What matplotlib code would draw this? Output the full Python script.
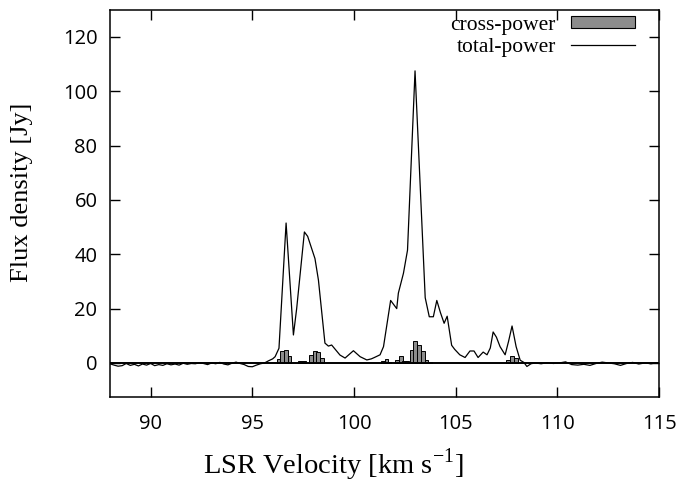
import matplotlib
matplotlib.use("Agg")
import matplotlib.pyplot as plt
from matplotlib.patches import Patch
from matplotlib.lines import Line2D

# total-power spectrum (LSR velocity [km/s], flux density [Jy])
tp_vel = [88.0, 88.2, 88.4, 88.6, 88.8, 89.0, 89.2, 89.4, 89.6, 89.8,
          90.0, 90.2, 90.4, 90.6, 90.8, 91.0, 91.2, 91.4, 91.6, 91.8,
          92.0, 92.2, 92.4, 92.6, 92.8, 93.0, 93.2, 93.4, 93.6, 93.8,
          94.0, 94.2, 94.4, 94.6, 94.8, 95.0, 95.2, 95.4, 95.6, 95.8,
          96.0, 96.12, 96.31, 96.66, 97.02, 97.18, 97.56, 97.72, 98.08, 98.25,
          98.57, 98.74, 98.9, 99.31, 99.56, 99.97, 100.3, 100.63, 100.85, 101.0,
          101.28, 101.45, 101.8, 102.1, 102.18, 102.43, 102.63, 103.0, 103.5, 103.7,
          103.9, 104.07, 104.25, 104.43, 104.58, 104.8, 104.95, 105.2, 105.46, 105.7,
          105.9, 106.1, 106.35, 106.54, 106.7, 106.84, 107.0, 107.18, 107.43, 107.6,
          107.77, 107.97, 108.17, 108.35, 108.5, 108.7, 108.9, 109.2, 109.5, 109.8,
          110.1, 110.4, 110.7, 111.0, 111.3, 111.6, 111.9, 112.2, 112.5, 112.8,
          113.1, 113.4, 113.7, 114.0, 114.3, 114.6, 114.9, 115.0]
tp_flux = [-0.3, -0.8, -1.2, -1.0, -0.2, -0.9, -0.5, -1.1, -0.4, -0.8,
           -0.2, -1.0, -0.6, -0.9, -0.3, -0.7, -0.4, -0.8, -0.1, -0.5,
           -0.2, -0.3, 0.1, -0.2, -0.6, 0.0, -0.3, 0.2, -0.4, -0.7,
           -0.1, 0.3, -0.2, -0.6, -1.3, -1.4, -0.8, -0.3, 0.0, 0.8,
           1.5, 2.3, 5.4, 51.5, 10.3, 20.0, 48.2, 46.6, 38.4, 30.5,
           7.3, 6.2, 6.6, 2.9, 1.8, 4.5, 2.3, 1.1, 1.5, 2.0,
           3.0, 6.0, 23.0, 20.0, 25.7, 33.0, 41.5, 107.5, 24.0, 17.0,
           17.0, 23.0, 18.5, 14.6, 17.2, 6.5, 5.0, 3.0, 2.0, 4.4,
           4.4, 2.0, 4.0, 3.0, 5.5, 11.4, 9.5, 6.0, 3.0, 8.0,
           13.6, 6.0, 1.0, 0.2, -1.3, -0.3, 0.0, -0.3, 0.1, -0.2,
           0.0, 0.4, -0.6, -0.8, -0.5, -0.9, -0.2, 0.3, 0.0, -0.3,
           -0.9, -0.2, 0.2, -0.4, 0.0, -0.3, 0.1, 0.0]

# cross-power channels (non-zero ones)
cp_vel = [96.31, 96.47, 96.65, 96.83,
          97.35, 97.53, 97.89, 98.07, 98.24, 98.43,
          101.44, 101.6, 101.73, 102.12, 102.32, 102.47, 102.62,
          102.82, 103.01, 103.21, 103.4, 103.57, 103.74,
          107.58, 107.77, 107.97]
cp_flux = [1.6, 4.3, 4.9, 2.4,
           0.7, 0.7, 2.8, 4.3, 3.9, 2.0,
           0.7, 1.6, 0.4, 1.2, 2.4, 0.7, 0.7,
           4.9, 8.1, 6.5, 4.4, 1.2, 0.4,
           1.0, 2.4, 1.9]

xticks = [90, 95, 100, 105, 110, 115]
yticks = [0, 20, 40, 60, 80, 100, 120]

fig = plt.figure(figsize=(6.83, 4.87), dpi=100)
ax = fig.add_axes([0.161, 0.185, 0.804, 0.795])

ax.bar(cp_vel, cp_flux, width=0.18, color='#8c8c8c', edgecolor='black',
       linewidth=0.7, zorder=2)
ax.axhline(0, color='black', linewidth=1.4, zorder=2)
ax.plot(tp_vel, tp_flux, color='black', linewidth=0.9, zorder=3)

ax.set_xlim(88, 115)
ax.set_ylim(-12.5, 130)
ax.set_xticks(xticks)
ax.set_yticks(yticks)
ax.tick_params(direction='in', length=7, width=1, top=True, right=True,
               labelsize=14.5)
ax.tick_params(axis='x', pad=12)
ax.tick_params(axis='y', pad=9)
for lab in ax.get_xticklabels() + ax.get_yticklabels():
    lab.set_family('Open Sans')
for sp in ax.spines.values():
    sp.set_linewidth(1.1)

# gnuplot centres the axis titles on the canvas, not on the plot box
fig.text(0.488, 0.028, 'LSR Velocity [km s$^{\\mathregular{-1}}$]',
         family='Liberation Serif', fontsize=20.5, ha='center', va='baseline')
fig.text(0.016, 0.605, 'Flux density [Jy]', family='Liberation Serif',
         fontsize=19, rotation=90, ha='left', va='center')

handles = [Patch(facecolor='#8c8c8c', edgecolor='black', linewidth=0.8),
           Line2D([], [], color='black', linewidth=0.9)]
ax.legend(handles, ['cross-power', 'total-power'], loc='upper right',
          bbox_to_anchor=(0.957, 0.985), borderaxespad=0, borderpad=0,
          frameon=False, markerfirst=False, handlelength=3.0, handleheight=0.5,
          handletextpad=0.7, labelspacing=0.15,
          prop={'family': 'Liberation Serif', 'size': 15.5})

fig.savefig('out.png', dpi=100)
